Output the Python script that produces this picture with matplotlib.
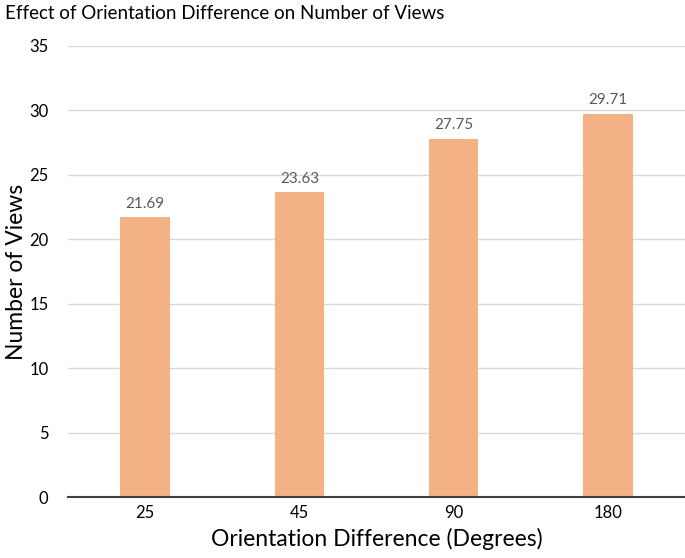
import matplotlib
matplotlib.use("Agg")
import matplotlib.pyplot as plt

# data
categories = ["25", "45", "90", "180"]
views = [21.69, 23.63, 27.75, 29.71]
yticks = [0, 5, 10, 15, 20, 25, 30, 35]

plt.rcParams["font.family"] = ["Lato", "DejaVu Sans"]

fig = plt.figure(figsize=(6.85, 5.58), dpi=100)
ax = fig.add_axes([0.0993, 0.1093, 0.9007, 0.8083])

x = range(len(categories))
ax.bar(x, views, width=0.32, color="#F4B183", zorder=3)

for xi, v in zip(x, views):
    ax.annotate(f"{v:.2f}", (xi, v), xytext=(0, 5), textcoords="offset points",
                ha="center", va="bottom", fontsize=11, color="#595959")

ax.set_xlim(-0.5, len(categories) - 0.5)
ax.set_ylim(0, 35)
ax.set_xticks(list(x))
ax.set_xticklabels(categories)
ax.set_yticks(yticks)
ax.tick_params(axis="y", length=0, pad=14, labelsize=12, colors="#000000")
ax.tick_params(axis="x", length=0, pad=6, labelsize=12)
ax.grid(axis="y", color="#D9D9D9", linewidth=1, zorder=0)

for s in ["top", "right", "left"]:
    ax.spines[s].set_visible(False)
ax.spines["bottom"].set_color("#404040")
ax.spines["bottom"].set_linewidth(1.5)
ax.spines["bottom"].set_zorder(4)

ax.set_xlabel("Orientation Difference (Degrees)", fontsize=16.5, labelpad=5)
ax.set_ylabel("Number of Views", fontsize=16.5, labelpad=2)
fig.text(0.007, 0.975, "Effect of Orientation Difference on Number of Views",
         fontsize=13.5, ha="left", va="center")

fig.savefig("out.png", dpi=100)
